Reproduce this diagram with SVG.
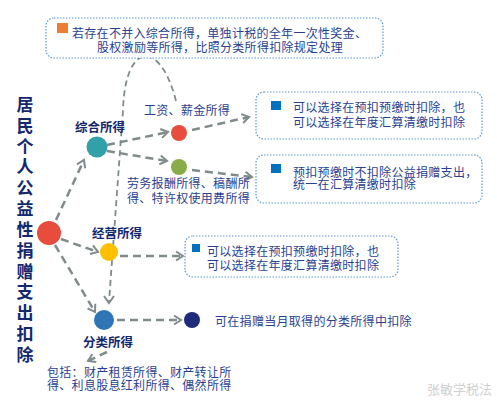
<svg xmlns="http://www.w3.org/2000/svg" width="497" height="403" viewBox="0 0 497 403">
<defs>
<style>
.t{font-family:"Noto Sans CJK SC","Noto Sans",sans-serif;font-size:12px;fill:#2a3f8f;letter-spacing:0.3px}
.b{font-family:"Noto Sans CJK SC","Noto Sans",sans-serif;font-size:12.5px;font-weight:bold;fill:#14286e}
.v{font-family:"Noto Sans CJK SC","Noto Sans",sans-serif;font-size:17px;font-weight:bold;fill:#14286e;text-anchor:middle}
.box{fill:#fff;stroke:#5b9bd5;stroke-width:1.2;stroke-dasharray:1.5 1.5}
.c{fill:none;stroke:#808b8c;stroke-width:2.5;stroke-dasharray:8 5;marker-end:url(#ah)}
.c2{fill:none;stroke:#808b8c;stroke-width:1.8;stroke-dasharray:6 4}
</style>
<marker id="ah" markerUnits="userSpaceOnUse" markerWidth="12" markerHeight="12" refX="9" refY="6" orient="auto">
<path d="M2,1.5 L9,6 L2,10.5" fill="none" stroke="#808b8c" stroke-width="2"/>
</marker>
</defs>
<rect width="497" height="403" fill="#fff"/>

<g id="title">
<text class="v" x="25" y="111">居</text>
<text class="v" x="25" y="132">民</text>
<text class="v" x="25" y="153">个</text>
<text class="v" x="25" y="173">人</text>
<text class="v" x="25" y="194">公</text>
<text class="v" x="25" y="215">益</text>
<text class="v" x="25" y="236">性</text>
<text class="v" x="25" y="257">捐</text>
<text class="v" x="25" y="278">赠</text>
<text class="v" x="25" y="298">支</text>
<text class="v" x="25" y="319">出</text>
<text class="v" x="25" y="340">扣</text>
<text class="v" x="25" y="361">除</text>
</g>

<g id="connectors">
<path class="c2" d="M176,101 C160,38 125,42 123,110 L109,302"/>
<path d="M104,296 L109,303 L114,296" fill="none" stroke="#808b8c" stroke-width="2"/>
<path class="c" d="M56,220 L84,160"/>
<path class="c" d="M61,239 L98,252"/>
<path class="c" d="M55,245 L95,312"/>
<path class="c" d="M107,145 L168,132"/>
<path class="c" d="M107,151 L167,161"/>
<path class="c" d="M192,130 L249,117"/>
<path class="c" d="M192,170 L252,177"/>
<path class="c" d="M120,256 L183,256"/>
<path class="c" d="M117,320 L181,320"/>
<path class="c" d="M107,352 L88,361"/>
</g>

<g id="box-top">
<rect class="box" x="46" y="18" width="337" height="40" rx="8"/>
<rect x="57" y="23" width="11" height="10" fill="#ed7d31"/>
<text class="t" x="72" y="37.5">若存在不并入综合所得，单独计税的全年一次性奖金、</text>
<text class="t" x="97" y="51.5">股权激励等所得，比照分类所得扣除规定处理</text>
</g>

<g id="box-wage">
<rect class="box" x="256" y="92" width="226" height="47" rx="8"/>
<rect x="271" y="101" width="10" height="9" fill="#0070c0"/>
<text class="t" x="293" y="111.5">可以选择在预扣预缴时扣除，也</text>
<text class="t" x="293" y="126.5">可以选择在年度汇算清缴时扣除</text>
</g>

<g id="box-labor">
<rect class="box" x="256" y="155" width="226" height="48" rx="8"/>
<rect x="271" y="164" width="10" height="9" fill="#0070c0"/>
<text class="t" x="293" y="176.5">预扣预缴时不扣除公益捐赠支出，</text>
<text class="t" x="293" y="189">统一在汇算清缴时扣除</text>
</g>

<g id="box-business">
<rect class="box" x="185" y="236" width="213" height="41" rx="8"/>
<rect x="192" y="244" width="8" height="8" fill="#0070c0"/>
<text class="t" x="207" y="256">可以选择在预扣预缴时扣除，也</text>
<text class="t" x="207" y="269.5">可以选择在年度汇算清缴时扣除</text>
</g>

<g id="root"><circle cx="49" cy="233" r="12" fill="#e84c3d"/></g>

<g id="zonghe">
<circle cx="97" cy="147" r="10.5" fill="#31a0a8"/>
<text class="b" x="75" y="131.5">综合所得</text>
</g>

<g id="wage">
<circle cx="179" cy="133" r="8" fill="#e84c3d"/>
<text class="t" x="144" y="114.5">工资、薪金所得</text>
</g>

<g id="labor">
<circle cx="179" cy="167" r="8" fill="#8aac48"/>
<text class="t" x="127" y="187.5">劳务报酬所得、稿酬所</text>
<text class="t" x="127" y="203">得、特许权使用费所得</text>
</g>

<g id="business">
<circle cx="109" cy="252" r="9" fill="#fec000"/>
<text class="b" x="92" y="237.5">经营所得</text>
</g>

<g id="classified">
<circle cx="104" cy="320" r="10" fill="#2e75b6"/>
<text class="b" x="83" y="346.5">分类所得</text>
</g>

<g id="navy">
<circle cx="192" cy="320" r="8" fill="#1f2a7a"/>
<text class="t" x="215" y="325.5">可在捐赠当月取得的分类所得中扣除</text>
</g>

<g id="includes">
<text class="t" x="47" y="376.5">包括：财产租赁所得、财产转让所</text>
<text class="t" x="47" y="389.5">得、利息股息红利所得、偶然所得</text>
</g>

<text x="427" y="394" font-family="Noto Sans CJK SC, sans-serif" font-size="13" fill="#d0d0d0">张敏学税法</text>
</svg>
